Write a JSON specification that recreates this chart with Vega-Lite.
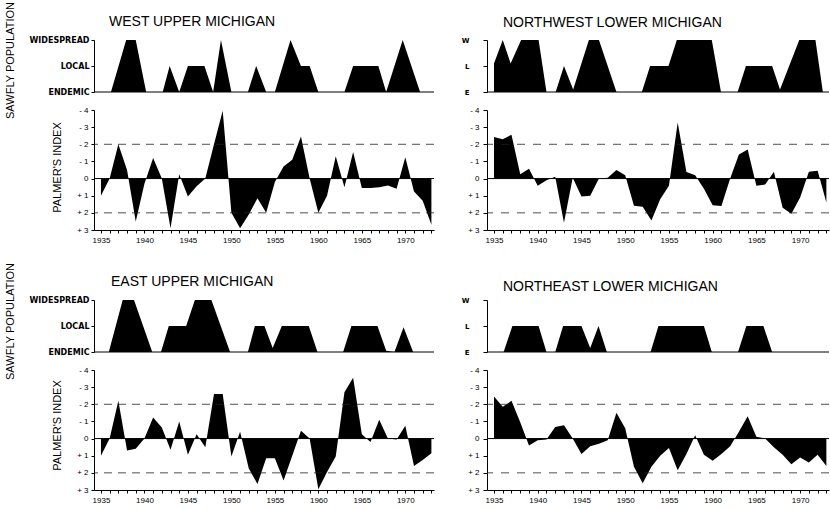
{
"$schema": "https://vega.github.io/schema/vega-lite/v6.json",
"autosize": {"type": "pad"},
"padding": {"left": 3, "top": 1, "right": 0, "bottom": 0},
"background": "white",
"bounds": "flush",
"align": "each",
"columns": 2,
"spacing": {"row": 18, "column": 53},
"config": {
 "font": "Liberation Sans",
 "view": {"stroke": null},
 "axis": {"grid": false, "domainColor": "#000", "tickColor": "#000", "labelColor": "#000", "titleColor": "#000", "labelFont": "Liberation Sans", "titleFont": "Liberation Sans", "labelFontSize": 8, "titleFontSize": 11, "titleFontWeight": "normal", "domainWidth": 1, "tickWidth": 1, "labelOverlap": false},
 "title": {"font": "Liberation Sans", "fontSize": 14, "fontWeight": "normal", "color": "#000"}
},
"datasets": {
 "wuSaw": [{"year":1935,"level":0},{"year":1936.15,"level":0},{"year":1937.9,"level":2},{"year":1939.0,"level":2},{"year":1940.2,"level":0},{"year":1942.1,"level":0},{"year":1942.9,"level":1},{"year":1944.0,"level":0},{"year":1945.0,"level":1},{"year":1946.9,"level":1},{"year":1947.9,"level":0},{"year":1948.8,"level":2},{"year":1950.0,"level":0},{"year":1951.9,"level":0},{"year":1952.85,"level":1},{"year":1954.0,"level":0},{"year":1955.0,"level":0},{"year":1956.8,"level":2},{"year":1958.0,"level":1},{"year":1959.0,"level":1},{"year":1960.0,"level":0},{"year":1963.0,"level":0},{"year":1964.0,"level":1},{"year":1966.9,"level":1},{"year":1967.8,"level":0},{"year":1969.7,"level":2},{"year":1971.7,"level":0},{"year":1973.0,"level":0}],
 "nwSaw": [{"year":1935,"level":1.1},{"year":1936,"level":2},{"year":1936.9,"level":1.1},{"year":1938.1,"level":2},{"year":1940.1,"level":2},{"year":1941,"level":0},{"year":1942.05,"level":0},{"year":1943,"level":1},{"year":1944.05,"level":0.1},{"year":1945.85,"level":2},{"year":1947,"level":2},{"year":1949,"level":0},{"year":1951.9,"level":0},{"year":1952.85,"level":1},{"year":1954.95,"level":1},{"year":1955.9,"level":2},{"year":1959.9,"level":2},{"year":1960.95,"level":0},{"year":1962.85,"level":0},{"year":1963.8,"level":1},{"year":1966.8,"level":1},{"year":1967.7,"level":0.1},{"year":1969.9,"level":2},{"year":1971.75,"level":2},{"year":1972.6,"level":0},{"year":1973,"level":0}],
 "euSaw": [{"year":1935,"level":0},{"year":1935.9,"level":0},{"year":1937.5,"level":2},{"year":1938.8,"level":2},{"year":1940.9,"level":0},{"year":1941.9,"level":0},{"year":1942.8,"level":1},{"year":1944.8,"level":1},{"year":1945.8,"level":2},{"year":1947.7,"level":2},{"year":1949.85,"level":0},{"year":1951.9,"level":0},{"year":1952.7,"level":1},{"year":1953.8,"level":1},{"year":1954.75,"level":0.15},{"year":1955.8,"level":1},{"year":1958.9,"level":1},{"year":1959.9,"level":0},{"year":1962.85,"level":0},{"year":1963.8,"level":1},{"year":1966.8,"level":1},{"year":1967.8,"level":0.05},{"year":1968.75,"level":0},{"year":1969.8,"level":0.95},{"year":1970.9,"level":0},{"year":1973,"level":0}],
 "neSaw": [{"year":1935,"level":0},{"year":1936.1,"level":0},{"year":1937.1,"level":1},{"year":1940.1,"level":1},{"year":1941,"level":0},{"year":1942,"level":0},{"year":1942.9,"level":1},{"year":1945,"level":1},{"year":1946,"level":0.15},{"year":1946.95,"level":1},{"year":1947.9,"level":0},{"year":1952.9,"level":0},{"year":1953.8,"level":1},{"year":1959,"level":1},{"year":1959.9,"level":0},{"year":1962.9,"level":0},{"year":1963.85,"level":1},{"year":1965.8,"level":1},{"year":1966.8,"level":0},{"year":1973,"level":0}],
 "wuPal": [{"year":1935,"pdsi":1.0},{"year":1936,"pdsi":0},{"year":1937,"pdsi":-2.0},{"year":1938,"pdsi":-0.5},{"year":1939,"pdsi":2.5},{"year":1940,"pdsi":0.3},{"year":1941,"pdsi":-1.2},{"year":1942,"pdsi":0},{"year":1943,"pdsi":2.9},{"year":1944,"pdsi":-0.25},{"year":1945,"pdsi":1.05},{"year":1946,"pdsi":0.45},{"year":1947,"pdsi":0},{"year":1948,"pdsi":-2.0},{"year":1949,"pdsi":-3.95},{"year":1950,"pdsi":2.0},{"year":1951,"pdsi":2.9},{"year":1952,"pdsi":2.1},{"year":1953,"pdsi":1.15},{"year":1954,"pdsi":2.0},{"year":1955,"pdsi":0.2},{"year":1956,"pdsi":-0.7},{"year":1957,"pdsi":-1.1},{"year":1958,"pdsi":-2.45},{"year":1959,"pdsi":0},{"year":1960,"pdsi":2.0},{"year":1961,"pdsi":1.0},{"year":1962,"pdsi":-1.3},{"year":1963,"pdsi":0.5},{"year":1964,"pdsi":-1.55},{"year":1965,"pdsi":0.55},{"year":1966,"pdsi":0.55},{"year":1967,"pdsi":0.5},{"year":1968,"pdsi":0.4},{"year":1969,"pdsi":0.6},{"year":1970,"pdsi":-1.25},{"year":1971,"pdsi":0.75},{"year":1972,"pdsi":1.3},{"year":1973,"pdsi":2.7}],
 "nwPal": [{"year":1935,"pdsi":-2.42},{"year":1936,"pdsi":-2.3},{"year":1937,"pdsi":-2.55},{"year":1938,"pdsi":-0.25},{"year":1939,"pdsi":-0.58},{"year":1940,"pdsi":0.42},{"year":1941,"pdsi":0.1},{"year":1942,"pdsi":-0.1},{"year":1943,"pdsi":2.58},{"year":1944,"pdsi":-0.05},{"year":1945,"pdsi":1.05},{"year":1946,"pdsi":1.0},{"year":1947,"pdsi":0},{"year":1948,"pdsi":-0.05},{"year":1949,"pdsi":-0.5},{"year":1950,"pdsi":-0.2},{"year":1951,"pdsi":1.58},{"year":1952,"pdsi":1.65},{"year":1953,"pdsi":2.45},{"year":1954,"pdsi":1.2},{"year":1955,"pdsi":0.42},{"year":1956,"pdsi":-3.27},{"year":1957,"pdsi":-0.38},{"year":1958,"pdsi":-0.2},{"year":1959,"pdsi":0.6},{"year":1960,"pdsi":1.55},{"year":1961,"pdsi":1.6},{"year":1962,"pdsi":0},{"year":1963,"pdsi":-1.4},{"year":1964,"pdsi":-1.7},{"year":1965,"pdsi":0.42},{"year":1966,"pdsi":0.35},{"year":1967,"pdsi":-0.4},{"year":1968,"pdsi":1.7},{"year":1969,"pdsi":2.05},{"year":1970,"pdsi":1.1},{"year":1971,"pdsi":-0.4},{"year":1972,"pdsi":-0.45},{"year":1973,"pdsi":1.4}],
 "euPal": [{"year":1935,"pdsi":1.0},{"year":1936,"pdsi":0},{"year":1937,"pdsi":-2.2},{"year":1938,"pdsi":0.7},{"year":1939,"pdsi":0.6},{"year":1940,"pdsi":0},{"year":1941,"pdsi":-1.23},{"year":1942,"pdsi":-0.65},{"year":1943,"pdsi":0.65},{"year":1944,"pdsi":-1.0},{"year":1945,"pdsi":0.95},{"year":1946,"pdsi":-0.25},{"year":1947,"pdsi":0.5},{"year":1948,"pdsi":-2.6},{"year":1949,"pdsi":-2.6},{"year":1950,"pdsi":1.05},{"year":1951,"pdsi":-0.4},{"year":1952,"pdsi":1.75},{"year":1953,"pdsi":2.65},{"year":1954,"pdsi":1.15},{"year":1955,"pdsi":1.15},{"year":1956,"pdsi":2.45},{"year":1957,"pdsi":1.0},{"year":1958,"pdsi":-0.45},{"year":1959,"pdsi":0},{"year":1960,"pdsi":2.95},{"year":1961,"pdsi":1.95},{"year":1962,"pdsi":1.05},{"year":1963,"pdsi":-2.7},{"year":1964,"pdsi":-3.55},{"year":1965,"pdsi":-0.25},{"year":1966,"pdsi":0.2},{"year":1967,"pdsi":-1.1},{"year":1968,"pdsi":0},{"year":1969,"pdsi":0.05},{"year":1970,"pdsi":-0.75},{"year":1971,"pdsi":1.6},{"year":1972,"pdsi":1.25},{"year":1973,"pdsi":0.85}],
 "nePal": [{"year":1935,"pdsi":-2.45},{"year":1936,"pdsi":-1.85},{"year":1937,"pdsi":-2.2},{"year":1938,"pdsi":-0.95},{"year":1939,"pdsi":0.4},{"year":1940,"pdsi":0.1},{"year":1941,"pdsi":0.05},{"year":1942,"pdsi":-0.68},{"year":1943,"pdsi":-0.77},{"year":1944,"pdsi":0},{"year":1945,"pdsi":0.9},{"year":1946,"pdsi":0.45},{"year":1947,"pdsi":0.3},{"year":1948,"pdsi":0.1},{"year":1949,"pdsi":-1.5},{"year":1950,"pdsi":-0.6},{"year":1951,"pdsi":1.65},{"year":1952,"pdsi":2.6},{"year":1953,"pdsi":1.65},{"year":1954,"pdsi":1.0},{"year":1955,"pdsi":0.55},{"year":1956,"pdsi":1.85},{"year":1957,"pdsi":0.9},{"year":1958,"pdsi":-0.2},{"year":1959,"pdsi":0.95},{"year":1960,"pdsi":1.3},{"year":1961,"pdsi":0.9},{"year":1962,"pdsi":0.45},{"year":1963,"pdsi":-0.4},{"year":1964,"pdsi":-1.3},{"year":1965,"pdsi":-0.1},{"year":1966,"pdsi":0},{"year":1967,"pdsi":0.5},{"year":1968,"pdsi":0.95},{"year":1969,"pdsi":1.5},{"year":1970,"pdsi":1.1},{"year":1971,"pdsi":1.4},{"year":1972,"pdsi":0.95},{"year":1973,"pdsi":1.6}],
 "zeroS": [{"level":0}],
 "zeroP": [{"pdsi":0}],
 "refsP": [{"pdsi":-2},{"pdsi":2}]
},
"concat": [
 {"width": 340, "height": 52,
  "title": {"text": "WEST UPPER MICHIGAN", "anchor": "start", "frame": "group", "dx": 15, "offset": 11, "dy": 39},
  "encoding": {"y": {"field": "level", "type": "quantitative", "scale": {"domain": [0, 2], "nice": false}, "axis": {"values": [0, 1, 2], "labelExpr": "['ENDEMIC','LOCAL','WIDESPREAD'][datum.value]", "labelFont": "DejaVu Sans", "labelFontSize": 8, "labelFontWeight": "bold", "tickSize": 3, "labelPadding": 2, "title": "SAWFLY POPULATION", "titleX": -79, "titleY": 20}}},
  "layer": [
   {"data": {"name": "wuSaw"}, "mark": {"type": "area", "color": "#000"},
    "encoding": {"x": {"field": "year", "type": "quantitative", "scale": {"domain": [1934.2, 1973.3], "nice": false, "zero": false}, "axis": null}, "y2": {"datum": 0}}},
   {"data": {"name": "zeroS"}, "mark": {"type": "rule", "color": "#000", "strokeWidth": 1}, "encoding": {}}
  ]},
 {"width": 342, "height": 52,
  "title": {"text": "NORTHWEST LOWER MICHIGAN", "anchor": "start", "frame": "group", "dx": 16, "offset": 11, "dy": 5},
  "encoding": {"y": {"field": "level", "type": "quantitative", "scale": {"domain": [0, 2], "nice": false}, "axis": {"values": [0, 1, 2], "labelExpr": "['E','L','W'][datum.value]", "labelFont": "DejaVu Sans", "labelFontSize": 7, "labelFontWeight": "bold", "tickSize": 4, "labelPadding": 14, "title": null}}},
  "layer": [
   {"data": {"name": "nwSaw"}, "mark": {"type": "area", "color": "#000"},
    "encoding": {"x": {"field": "year", "type": "quantitative", "scale": {"domain": [1934.2, 1973.3], "nice": false, "zero": false}, "axis": null}, "y2": {"datum": 0}}},
   {"data": {"name": "zeroS"}, "mark": {"type": "rule", "color": "#000", "strokeWidth": 1}, "encoding": {}}
  ]},
 {"width": 340, "height": 120,
  "encoding": {"y": {"field": "pdsi", "type": "quantitative", "scale": {"domain": [-4, 3], "reverse": true, "nice": false}, "axis": {"values": [-4,-3,-2,-1,0,1,2,3], "labelExpr": "datum.value > 0 ? '+ ' + datum.value : (datum.value < 0 ? '- ' + (-datum.value) : '0')", "tickSize": 3, "labelPadding": 3, "title": "PALMER'S  INDEX", "titleX": -32, "titleY": 57}}},
  "layer": [
   {"data": {"name": "wuPal"}, "mark": {"type": "area", "color": "#000"},
    "encoding": {"x": {"field": "year", "type": "quantitative", "scale": {"domain": [1934.2, 1973.3], "nice": false, "zero": false}, "axis": {"values": [1935,1936,1937,1938,1939,1940,1941,1942,1943,1944,1945,1946,1947,1948,1949,1950,1951,1952,1953,1954,1955,1956,1957,1958,1959,1960,1961,1962,1963,1964,1965,1966,1967,1968,1969,1970,1971,1972,1973], "format": "d", "labelExpr": "datum.value % 5 === 0 ? datum.label : ''", "tickSize": 3, "labelPadding": 3, "title": null}}, "y2": {"datum": 0}}},
   {"data": {"name": "refsP"}, "mark": {"type": "rule", "color": "#222", "strokeWidth": 0.8, "strokeDash": [8, 6]}, "encoding": {}},
   {"data": {"name": "zeroP"}, "mark": {"type": "rule", "color": "#000", "strokeWidth": 1}, "encoding": {}}
  ]},
 {"width": 342, "height": 120,
  "encoding": {"y": {"field": "pdsi", "type": "quantitative", "scale": {"domain": [-4, 3], "reverse": true, "nice": false}, "axis": {"values": [-4,-3,-2,-1,0,1,2,3], "labelExpr": "datum.value > 0 ? '+ ' + datum.value : (datum.value < 0 ? '- ' + (-datum.value) : '0')", "tickSize": 4, "labelPadding": 4, "title": null}}},
  "layer": [
   {"data": {"name": "nwPal"}, "mark": {"type": "area", "color": "#000"},
    "encoding": {"x": {"field": "year", "type": "quantitative", "scale": {"domain": [1934.2, 1973.3], "nice": false, "zero": false}, "axis": {"values": [1935,1936,1937,1938,1939,1940,1941,1942,1943,1944,1945,1946,1947,1948,1949,1950,1951,1952,1953,1954,1955,1956,1957,1958,1959,1960,1961,1962,1963,1964,1965,1966,1967,1968,1969,1970,1971,1972,1973], "format": "d", "labelExpr": "datum.value % 5 === 0 ? datum.label : ''", "tickSize": 3, "labelPadding": 3, "title": null}}, "y2": {"datum": 0}}},
   {"data": {"name": "refsP"}, "mark": {"type": "rule", "color": "#222", "strokeWidth": 0.8, "strokeDash": [8, 8]}, "encoding": {}},
   {"data": {"name": "zeroP"}, "mark": {"type": "rule", "color": "#000", "strokeWidth": 1}, "encoding": {}}
  ]},
 {"width": 340, "height": 104,
  "title": {"text": "EAST UPPER MICHIGAN", "anchor": "start", "frame": "group", "dx": 17, "offset": 0, "dy": 41},
  "encoding": {"y": {"field": "level", "type": "quantitative", "scale": {"domain": [0, 2], "range": [104, 52], "nice": false}, "axis": {"values": [0, 1, 2], "labelExpr": "['ENDEMIC','LOCAL','WIDESPREAD'][datum.value]", "labelFont": "DejaVu Sans", "labelFontSize": 8, "labelFontWeight": "bold", "tickSize": 3, "labelPadding": 2, "title": "SAWFLY POPULATION", "titleX": -79, "titleY": 73}}},
  "layer": [
   {"data": {"name": "euSaw"}, "mark": {"type": "area", "color": "#000"},
    "encoding": {"x": {"field": "year", "type": "quantitative", "scale": {"domain": [1934.2, 1973.3], "nice": false, "zero": false}, "axis": null}, "y2": {"datum": 0}}},
   {"data": {"name": "zeroS"}, "mark": {"type": "rule", "color": "#000", "strokeWidth": 1}, "encoding": {}}
  ]},
 {"width": 342, "height": 104,
  "title": {"text": "NORTHEAST LOWER MICHIGAN", "anchor": "start", "frame": "group", "dx": 16, "offset": 0, "dy": 46},
  "encoding": {"y": {"field": "level", "type": "quantitative", "scale": {"domain": [0, 2], "range": [104, 52], "nice": false}, "axis": {"values": [0, 1, 2], "labelExpr": "['E','L','W'][datum.value]", "labelFont": "DejaVu Sans", "labelFontSize": 7, "labelFontWeight": "bold", "tickSize": 4, "labelPadding": 14, "title": null}}},
  "layer": [
   {"data": {"name": "neSaw"}, "mark": {"type": "area", "color": "#000"},
    "encoding": {"x": {"field": "year", "type": "quantitative", "scale": {"domain": [1934.2, 1973.3], "nice": false, "zero": false}, "axis": null}, "y2": {"datum": 0}}},
   {"data": {"name": "zeroS"}, "mark": {"type": "rule", "color": "#000", "strokeWidth": 1}, "encoding": {}}
  ]},
 {"width": 340, "height": 120,
  "encoding": {"y": {"field": "pdsi", "type": "quantitative", "scale": {"domain": [-4, 3], "reverse": true, "nice": false}, "axis": {"values": [-4,-3,-2,-1,0,1,2,3], "labelExpr": "datum.value > 0 ? '+ ' + datum.value : (datum.value < 0 ? '- ' + (-datum.value) : '0')", "tickSize": 3, "labelPadding": 3, "title": "PALMER'S  INDEX", "titleX": -32, "titleY": 55}}},
  "layer": [
   {"data": {"name": "euPal"}, "mark": {"type": "area", "color": "#000"},
    "encoding": {"x": {"field": "year", "type": "quantitative", "scale": {"domain": [1934.2, 1973.3], "nice": false, "zero": false}, "axis": {"values": [1935,1936,1937,1938,1939,1940,1941,1942,1943,1944,1945,1946,1947,1948,1949,1950,1951,1952,1953,1954,1955,1956,1957,1958,1959,1960,1961,1962,1963,1964,1965,1966,1967,1968,1969,1970,1971,1972,1973], "format": "d", "labelExpr": "datum.value % 5 === 0 ? datum.label : ''", "tickSize": 3, "labelPadding": 3, "title": null}}, "y2": {"datum": 0}}},
   {"data": {"name": "refsP"}, "mark": {"type": "rule", "color": "#222", "strokeWidth": 0.8, "strokeDash": [8, 6]}, "encoding": {}},
   {"data": {"name": "zeroP"}, "mark": {"type": "rule", "color": "#000", "strokeWidth": 1}, "encoding": {}}
  ]},
 {"width": 342, "height": 120,
  "encoding": {"y": {"field": "pdsi", "type": "quantitative", "scale": {"domain": [-4, 3], "reverse": true, "nice": false}, "axis": {"values": [-4,-3,-2,-1,0,1,2,3], "labelExpr": "datum.value > 0 ? '+ ' + datum.value : (datum.value < 0 ? '- ' + (-datum.value) : '0')", "tickSize": 4, "labelPadding": 4, "title": null}}},
  "layer": [
   {"data": {"name": "nePal"}, "mark": {"type": "area", "color": "#000"},
    "encoding": {"x": {"field": "year", "type": "quantitative", "scale": {"domain": [1934.2, 1973.3], "nice": false, "zero": false}, "axis": {"values": [1935,1936,1937,1938,1939,1940,1941,1942,1943,1944,1945,1946,1947,1948,1949,1950,1951,1952,1953,1954,1955,1956,1957,1958,1959,1960,1961,1962,1963,1964,1965,1966,1967,1968,1969,1970,1971,1972,1973], "format": "d", "labelExpr": "datum.value % 5 === 0 ? datum.label : ''", "tickSize": 3, "labelPadding": 3, "title": null}}, "y2": {"datum": 0}}},
   {"data": {"name": "refsP"}, "mark": {"type": "rule", "color": "#222", "strokeWidth": 0.8, "strokeDash": [8, 8]}, "encoding": {}},
   {"data": {"name": "zeroP"}, "mark": {"type": "rule", "color": "#000", "strokeWidth": 1}, "encoding": {}}
  ]}
]
}
